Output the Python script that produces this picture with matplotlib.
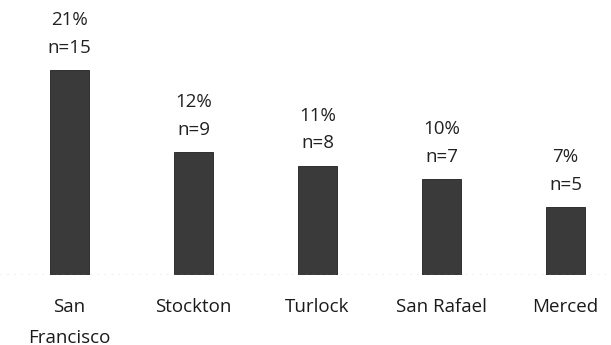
import matplotlib
matplotlib.use('Agg')
import matplotlib.pyplot as plt

# values
cities = ['San\nFrancisco', 'Stockton', 'Turlock', 'San Rafael', 'Merced']
pct = [20.8, 12.5, 11.1, 9.7, 6.9]
pct_labels = ['21%', '12%', '11%', '10%', '7%']
n_labels = ['n=15', 'n=9', 'n=8', 'n=7', 'n=5']

plt.rcParams['font.family'] = ['Open Sans', 'DejaVu Sans']

fig = plt.figure(figsize=(6.11, 3.45), dpi=100)
ax = fig.add_axes([0, 70 / 345, 1, 275 / 345])

x = range(len(cities))
ax.bar(x, pct, width=0.31, color='#3a3a3a', edgecolor='#1e1e1e', linewidth=0.6)
ax.axhline(0, color='#999999', linestyle=(0, (1, 4)), linewidth=1)

for i, v in enumerate(pct):
    ax.annotate(pct_labels[i] + '\n' + n_labels[i], (i, v), xytext=(0, 9.5),
                textcoords='offset points', ha='center', va='bottom',
                fontsize=13.5, color='#222222', linespacing=1.7)

ax.set_xlim(-0.56, 4.367)
ax.set_ylim(0, 27.9)
ax.set_xticks(list(x))
ax.set_xticklabels(cities, fontsize=13.5, color='#1a1a1a', linespacing=1.9)
ax.tick_params(axis='x', length=0, pad=16.5)
ax.set_yticks([])
for s in ax.spines.values():
    s.set_visible(False)

plt.savefig('out.png', dpi=100)
plt.close()
